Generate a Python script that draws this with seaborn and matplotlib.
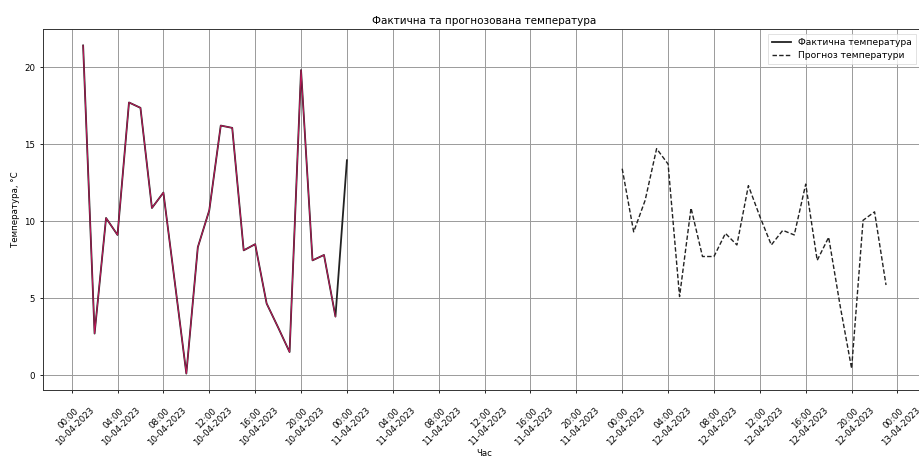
import matplotlib
matplotlib.use("Agg")
import matplotlib.pyplot as plt
import matplotlib.dates as mdates
import numpy as np
import pandas as pd
import seaborn as sns

# Observed hourly temperature, 10-04-2023 01:00 .. 11-04-2023 00:00
actual_start = "2023-04-10 01:00"
actual_temp = [21.4, 2.7, 10.2, 9.1, 17.7, 17.35, 10.85, 11.85, 6.0, 0.1,
               8.3, 10.7, 16.2, 16.05, 8.1, 8.5, 4.65, 3.1, 1.5, 19.8,
               7.45, 7.8, 3.8, 13.95]

# Forecast hourly temperature, 12-04-2023 00:00 .. 12-04-2023 23:00
forecast_start = "2023-04-12 00:00"
forecast_temp = [13.4, 9.3, 11.35, 14.7, 13.7, 5.1, 10.85, 7.7, 7.7, 9.2,
                 8.45, 12.3, 10.3, 8.45, 9.4, 9.1, 12.4, 7.45, 8.95, 4.5,
                 0.43, 10.05, 10.6, 5.85]

title = "Фактична та прогнозована температура"
xlabel = "Час"
ylabel = "Температура, °C"
label_actual = "Фактична температура"
label_forecast = "Прогноз температури"

actual = pd.DataFrame({
    "time": pd.date_range(actual_start, periods=len(actual_temp), freq="h"),
    "temp": actual_temp,
})
forecast = pd.DataFrame({
    "time": pd.date_range(forecast_start, periods=len(forecast_temp), freq="h"),
    "temp": forecast_temp,
})

plt.rcParams["font.family"] = ["DejaVu Sans"]

fig = plt.figure(figsize=(9.2, 4.61), dpi=100)
ax = fig.add_axes([0.0467, 0.154, 0.96, 0.783])

sns.lineplot(data=actual, x="time", y="temp", ax=ax, color="#222222",
             linewidth=1.3, label=label_actual)
sns.lineplot(data=actual.iloc[:-1], x="time", y="temp", ax=ax,
             color="#c2185b", linewidth=0.7, legend=False)
sns.lineplot(data=forecast, x="time", y="temp", ax=ax, color="#222222",
             linewidth=1.0, linestyle=(0, (3.2, 1.6)), label=label_forecast)

ax.xaxis.set_major_locator(mdates.HourLocator(interval=4))
ax.xaxis.set_major_formatter(mdates.DateFormatter("%H:%M\n%d-%m-%Y"))
plt.setp(ax.get_xticklabels(), rotation=45, ha="center")
ax.tick_params(labelsize=6.25, width=0.6, length=2.2)

ax.grid(True, color="#9a9a9a", linewidth=0.7)
for s in ax.spines.values():
    s.set_linewidth(0.7)
    s.set_color("#333333")

ax.set_title(title, fontsize=7.5, pad=3.5)
ax.set_xlabel(xlabel, fontsize=6.25, labelpad=1)
ax.set_ylabel(ylabel, fontsize=6.25, labelpad=3)

leg = ax.legend(loc="upper right", fontsize=6.6, frameon=True,
                fancybox=False, edgecolor="#d5d5d5", handlelength=2.0,
                borderpad=0.45, labelspacing=0.45,
                bbox_to_anchor=(0.9935, 1.0))
leg.get_frame().set_linewidth(0.6)

fig.savefig("out.png", dpi=100, facecolor="white")
